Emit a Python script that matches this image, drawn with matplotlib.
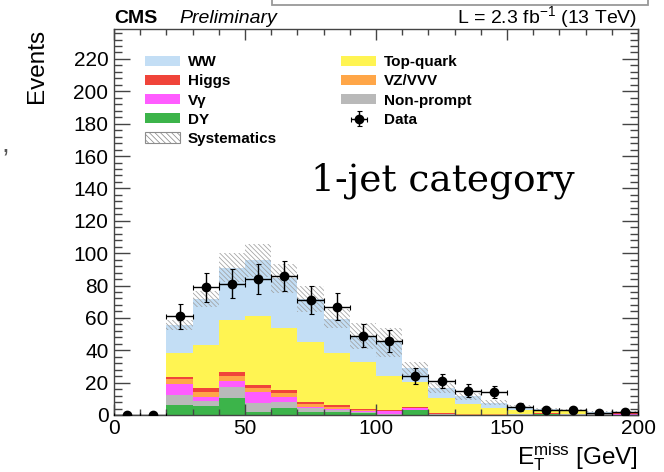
#######################################################
# imports

import numpy as np
import matplotlib.pyplot as plt
from matplotlib.patches import Patch, Rectangle
from matplotlib.ticker import MultipleLocator

plt.rcParams['font.family'] = ['Liberation Sans', 'DejaVu Sans']
plt.rcParams['mathtext.fontset'] = 'custom'
plt.rcParams['mathtext.rm'] = 'Liberation Sans'
plt.rcParams['mathtext.it'] = 'Liberation Sans:italic'
plt.rcParams['mathtext.bf'] = 'Liberation Sans:bold'
plt.rcParams['hatch.linewidth'] = 0.55

#######################################################
# MET distribution in the 1-jet category (10 GeV bins)

bin_edges = [0, 10, 20, 30, 40, 50, 60, 70, 80, 90, 100,
             110, 120, 130, 140, 150, 160, 170, 180, 190, 200]

data = [0, 0, 61, 79, 81, 84, 86, 71, 67, 49, 46,
        24, 21, 15, 14, 5, 3, 3, 1, 2]

# backgrounds, listed from the bottom of the stack upwards
dy = [0, 0, 6.0, 5.5, 10.7, 2.1, 4.5, 2.1, 1.8, 1.0, 0.3,
      3.0, 0.2, 0.1, 0.1, 0.2, 0.5, 0.2, 0.1, 0.1]
nonprompt = [0, 0, 6.1, 3.1, 6.5, 5.1, 3.7, 2.2, 1.3, 1.0, 0.5,
             0.3, 0.2, 0.1, 0.1, 0.2, 0.2, 0.2, 0.4, 0.1]
vgamma = [0, 0, 6.8, 2.7, 3.7, 7.0, 3.1, 0.6, 0.8, 0.5, 1.5,
          1.0, 0.3, 0.1, 0.1, 0.1, 0.1, 0.1, 0.1, 0.6]
vz_vvv = [0, 0, 3.1, 3.1, 3.5, 2.6, 2.5, 1.7, 1.2, 0.5, 0.3,
          0.3, 0.1, 0.1, 0.1, 0.1, 0.1, 0.1, 0.1, 0.1]
higgs = [0, 0, 1.2, 2.4, 2.3, 1.9, 1.4, 1.4, 0.9, 0.5, 0.3,
         0.4, 0.2, 0.1, 0.1, 0.1, 0.1, 0.1, 0.1, 0.1]
top = [0, 0, 15.4, 26.7, 32.2, 42.3, 38.8, 37.2, 32.4, 29.0, 21.1,
       15.5, 9.6, 6.5, 4.1, 2.5, 1.7, 1.6, 0.4, 0.2]
ww = [0, 0, 16.8, 28.2, 32.1, 34.5, 30.4, 26.7, 21.1, 16.5, 21.0,
      8.5, 6.0, 4.5, 3.1, 2.0, 0.9, 0.9, 0.9, 0.9]

# total systematic uncertainty on the background sum
syst = [0, 0, 3, 5, 9, 10, 9, 8, 6, 8, 9,
        4, 3, 2, 1.5, 1, 0.8, 0.6, 0.5, 0.5]

stack = [
    (dy, '#3cb44a', 'DY'),
    (nonprompt, '#b9b9b9', 'Non-prompt'),
    (vgamma, '#ff5cff', 'V\u03b3'),
    (vz_vvv, '#ffa648', 'VZ/VVV'),
    (higgs, '#f0443a', 'Higgs'),
    (top, '#fff452', 'Top-quark'),
    (ww, '#c3def5', 'WW'),
]

#######################################################
# plot

edges = np.array(bin_edges, dtype=float)
centers = 0.5 * (edges[:-1] + edges[1:])
halfwidth = 0.5 * np.diff(edges)
data = np.array(data, dtype=float)

fig = plt.figure(figsize=(6.64, 4.72), dpi=100)
ax = fig.add_axes([114/664, 1 - 415/472, 524/664, 386/472])

bottom = np.zeros(len(centers))
handles = {}
for vals, col, name in stack:
    upper = bottom + np.array(vals)
    ax.stairs(upper, edges, baseline=bottom, fill=True, color=col, lw=0)
    handles[name] = Patch(facecolor=col, edgecolor='none')
    bottom = upper
total = bottom
syst = np.array(syst)

hatch = '\\' * 7
ax.stairs(total + syst, edges, baseline=total - syst, fill=True,
          facecolor='none', edgecolor='#a0a0a0', hatch=hatch, lw=0)
handles['Systematics'] = Patch(facecolor='white', edgecolor='#8c8c8c',
                               hatch='\\' * 6, lw=0.8)

err = ax.errorbar(centers, data, xerr=halfwidth, yerr=np.sqrt(data), fmt='o',
                  color='black', ms=6, elinewidth=1.0, capsize=1.8,
                  capthick=0.8, zorder=5)
handles['Data'] = err

ax.set_xlim(0, 200)
ax.set_ylim(0, 238.5)

ax.xaxis.set_major_locator(MultipleLocator(50))
ax.xaxis.set_minor_locator(MultipleLocator(10))
ax.yaxis.set_major_locator(MultipleLocator(20))
ax.yaxis.set_minor_locator(MultipleLocator(4))
ax.tick_params(which='both', direction='in', top=True, right=True,
               color='#444444', width=1.0, labelsize=15)
ax.tick_params(axis='y', which='major', length=11.5, pad=4)
ax.tick_params(axis='y', which='minor', length=6)
ax.tick_params(axis='x', which='major', length=8, pad=3)
ax.tick_params(axis='x', which='minor', length=4)
for s in ax.spines.values():
    s.set_color('#444444')
    s.set_linewidth(1.0)

ax.set_ylabel('Events', fontsize=17.5, loc='top')
ax.yaxis.set_label_coords(-0.126, 1.0)
ax.set_xlabel(r'$\mathrm{E}_{\mathrm{T}}^{\mathrm{miss}}$ [GeV]', fontsize=17.5,
              loc='right', labelpad=2)

order = ['WW', 'Higgs', 'V\u03b3', 'DY', 'Systematics',
         'Top-quark', 'VZ/VVV', 'Non-prompt', 'Data']
ax.legend([handles[k] for k in order], order, ncol=2, frameon=False,
          loc='upper left', bbox_to_anchor=(0.048, 0.948),
          prop={'weight': 'bold', 'size': 11}, handlelength=2.3,
          handleheight=0.65, handletextpad=0.5, labelspacing=0.34,
          columnspacing=4.2, borderaxespad=0)

ax.text(0.376, 0.582, '1-jet category', transform=ax.transAxes,
        fontsize=27, family='DejaVu Serif', ha='left', va='baseline')

fig.text(114/664, 1 - 23/472, 'CMS', fontsize=14, weight='bold')
fig.text(179/664, 1 - 23/472, 'Preliminary', fontsize=14, style='italic')
fig.text(637/664, 1 - 23/472, r'L = 2.3 fb$^{\mathrm{-1}}$ (13 TeV)',
         fontsize=14, ha='right')

# slide decorations around the plot
fig.add_artist(Rectangle((272/664, 1 - 5/472), 376/664, 10/472,
                         transform=fig.transFigure, facecolor='white',
                         edgecolor='#999999', lw=1.3))
fig.text(1/664, 1 - 152/472, ',', fontsize=20, color='#555555')

plt.savefig('out.png', dpi=100)
plt.close()
